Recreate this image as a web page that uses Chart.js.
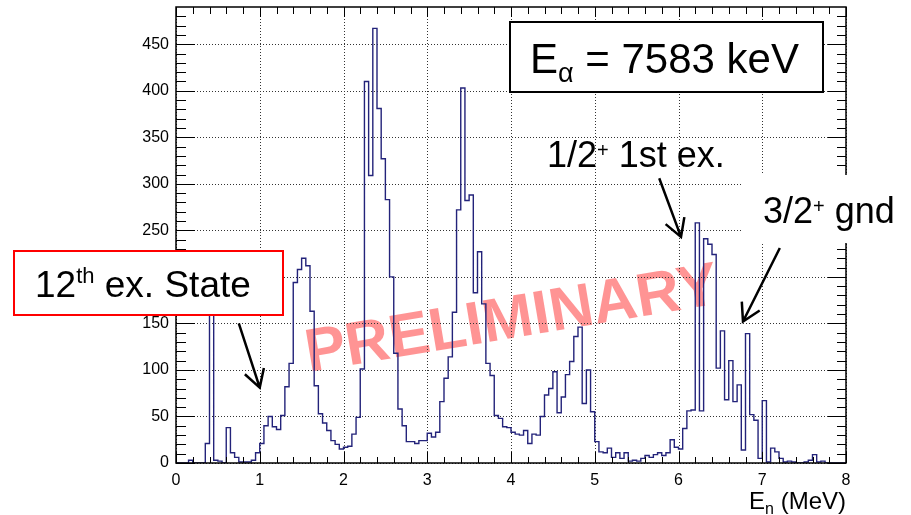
<!DOCTYPE html>
<html>
<head>
<meta charset="utf-8">
<script src="https://cdn.jsdelivr.net/npm/chart.js@4.4.1/dist/chart.umd.min.js"></script>
<style>
  body { margin: 0; background: #fff; }
  #wrap { width: 911px; height: 515px; }
</style>
</head>
<body>
<div id="wrap"><canvas id="myChart" width="911" height="515"></canvas></div>
<script>
// neutron energy spectrum, 0.05 MeV bins from 0 to 8 MeV (one row per MeV)
const binWidth = 0.05
const counts = [
    0, 0, 0, 3, 0, 0, 0, 21, 190, 3, 2, 0, 38, 11, 6, 1, 1, 1, 3, 11,
    21, 40, 50, 39, 36, 51, 82, 107, 194, 208, 220, 212, 163, 83, 53, 43, 35, 24, 20, 15,
    17, 18, 31, 49, 101, 410, 309, 467, 381, 327, 283, 200, 118, 58, 40, 23, 23, 21, 24, 24,
    32, 28, 33, 66, 91, 114, 162, 272, 403, 282, 288, 183, 227, 171, 107, 94, 51, 48, 39, 38,
    33, 31, 30, 35, 21, 31, 30, 50, 73, 80, 98, 54, 71, 95, 109, 136, 146, 64, 100, 55,
    23, 12, 11, 16, 6, 11, 5, 11, 2, 3, 2, 5, 8, 6, 9, 11, 8, 11, 25, 17,
    15, 37, 56, 57, 258, 56, 241, 235, 224, 102, 142, 68, 110, 66, 84, 14, 139, 52, 46, 5,
    67, 1, 16, 12, 5, 1, 2, 1, 0, 0, 1, 3, 9, 1, 2, 0, 0, 0, 0, 0
]
const xTicks = [0, 1, 2, 3, 4, 5, 6, 7, 8]
const yTicks = [0, 50, 100, 150, 200, 250, 300, 350, 400, 450]

const font = "'Liberation Sans', Arial, sans-serif"

// histogram outline: one point per bin low edge, plus the upper edge of the last bin
let points = counts.map((c, i) => ({ x: i * binWidth, y: c }))
points.push({ x: counts.length * binWidth, y: counts[counts.length - 1] })

// text made of pieces with sub/superscripts
function rich(ctx, x, base, parts) {
    parts.forEach(p => {
        ctx.font = p.size + 'px ' + font
        ctx.fillText(p.t, x, base + (p.dy || 0))
        x += ctx.measureText(p.t).width
    })
}

function arrow(ctx, x0, y0, x1, y1) {
    let ang = Math.atan2(y0 - y1, x0 - x1)
    let len = 20, spread = Math.PI / 6
    ctx.beginPath()
    ctx.moveTo(x0, y0)
    ctx.lineTo(x1, y1)
    ctx.moveTo(x1 + len * Math.cos(ang - spread), y1 + len * Math.sin(ang - spread))
    ctx.lineTo(x1, y1)
    ctx.lineTo(x1 + len * Math.cos(ang + spread), y1 + len * Math.sin(ang + spread))
    ctx.stroke()
}

const watermark = {
    id: 'watermark',
    beforeDraw(chart) {
        let ctx = chart.ctx
        ctx.save()
        ctx.translate(512, 321)
        ctx.rotate(-9.5 * Math.PI / 180)
        ctx.font = 'bold 61px ' + font
        ctx.fillStyle = 'rgba(255, 0, 0, 0.42)'
        ctx.textAlign = 'center'
        ctx.textBaseline = 'middle'
        ctx.fillText('PRELIMINARY', 0, 0)
        ctx.restore()
    }
}

// dotted grid at the labelled ticks
const dottedGrid = {
    id: 'dottedGrid',
    beforeDatasetsDraw(chart) {
        const { ctx, chartArea: a, scales: { x, y } } = chart
        ctx.save()
        ctx.strokeStyle = '#333'
        ctx.lineWidth = 1
        ctx.setLineDash([1, 2])
        ctx.beginPath()
        xTicks.forEach(v => {
            let px = Math.round(x.getPixelForValue(v)) + 0.5
            ctx.moveTo(px, a.top); ctx.lineTo(px, a.bottom)
        })
        yTicks.forEach(v => {
            let py = Math.round(y.getPixelForValue(v)) + 0.5
            ctx.moveTo(a.left, py); ctx.lineTo(a.right, py)
        })
        ctx.stroke()
        ctx.restore()
    }
}

const frame = {
    id: 'frame',
    afterDraw(chart) {
        const { ctx, chartArea: a, scales: { x, y } } = chart
        ctx.save()
        ctx.strokeStyle = '#000'
        ctx.lineWidth = 1
        ctx.beginPath()
        // minor ticks every 0.2 MeV, major every 1 MeV
        for (let k = 0; k <= 40; k++) {
            let px = Math.round(x.getPixelForValue(k / 5)) + 0.5
            let major = k % 5 === 0
            ctx.moveTo(px, a.bottom); ctx.lineTo(px, a.bottom - (major ? 11 : 6))
            ctx.moveTo(px, a.top); ctx.lineTo(px, a.top + (major ? 10 : 7))
        }
        // minor ticks every 10 counts, major every 50
        for (let v = 0; v <= 480; v += 10) {
            let py = Math.round(y.getPixelForValue(v)) + 0.5
            let major = v % 50 === 0
            ctx.moveTo(a.left, py); ctx.lineTo(a.left + (major ? 19 : 10), py)
            ctx.moveTo(a.right, py); ctx.lineTo(a.right - (major ? 18 : 9), py)
        }
        ctx.stroke()
        ctx.lineWidth = 1.5
        ctx.strokeRect(a.left, a.top, a.right - a.left, a.bottom - a.top)

        ctx.fillStyle = '#000'
        ctx.textBaseline = 'alphabetic'

        // axis title
        ctx.font = '24px ' + font
        let w = ctx.measureText('E').width + ctx.measureText(' (MeV)').width
        ctx.font = '16px ' + font
        w += ctx.measureText('n').width
        rich(ctx, a.right - w, 509, [
            { t: 'E', size: 24 }, { t: 'n', size: 16, dy: 5 }, { t: ' (MeV)', size: 24 }
        ])

        // beam energy box
        ctx.fillStyle = '#fff'
        ctx.fillRect(510, 22, 313, 70)
        ctx.lineWidth = 2
        ctx.strokeRect(510, 22, 313, 70)
        ctx.fillStyle = '#000'
        rich(ctx, 530, 73, [
            { t: 'E', size: 42 }, { t: 'α', size: 27, dy: 9 }, { t: ' = 7583 keV', size: 42 }
        ])

        // state labels
        rich(ctx, 547, 167, [
            { t: '1/2', size: 36 }, { t: '+', size: 20, dy: -10 }, { t: ' 1st ex.', size: 36 }
        ])
        ctx.fillStyle = '#fff'
        ctx.fillRect(743, 175, 168, 68)
        ctx.fillStyle = '#000'
        rich(ctx, 763, 223, [
            { t: '3/2', size: 36 }, { t: '+', size: 20, dy: -10 }, { t: ' gnd', size: 36 }
        ])

        ctx.fillStyle = '#fff'
        ctx.fillRect(14, 251, 269, 64)
        ctx.strokeStyle = '#ff0000'
        ctx.lineWidth = 2
        ctx.strokeRect(14, 251, 269, 64)
        ctx.fillStyle = '#000'
        rich(ctx, 35, 297, [
            { t: '12', size: 37 }, { t: 'th', size: 22, dy: -14 }, { t: ' ex. State', size: 37 }
        ])

        // arrows pointing at the peaks
        ctx.strokeStyle = '#000'
        ctx.lineWidth = 2.5
        arrow(ctx, x.getPixelForValue(0.75), y.getPixelForValue(150), x.getPixelForValue(1.0), y.getPixelForValue(81))
        arrow(ctx, x.getPixelForValue(5.77), y.getPixelForValue(306), x.getPixelForValue(6.03), y.getPixelForValue(243))
        arrow(ctx, x.getPixelForValue(7.21), y.getPixelForValue(231), x.getPixelForValue(6.77), y.getPixelForValue(152))
        ctx.restore()
    }
}

var ctx = document.getElementById('myChart').getContext('2d')
var myChart = new Chart(ctx, {
    type: 'line',
    data: {
        datasets: [{
            data: points,
            stepped: true,
            borderColor: '#23237a',
            borderWidth: 1.4,
            pointRadius: 0,
            fill: false
        }]
    },
    options: {
        responsive: false,
        animation: false,
        devicePixelRatio: 1,
        layout: { padding: { left: 0, right: 65, top: 7, bottom: 0 } },
        plugins: { legend: { display: false }, tooltip: { enabled: false } },
        scales: {
            x: {
                type: 'linear',
                min: 0,
                max: 8,
                afterBuildTicks: s => { s.ticks = xTicks.map(v => ({ value: v })) },
                afterFit: s => { s.height = 52; s.paddingLeft = 0; s.paddingRight = 0 },
                grid: { display: false, drawTicks: false },
                border: { display: false },
                ticks: { color: '#000', font: { family: font, size: 16 }, padding: 8, maxRotation: 0 }
            },
            y: {
                min: 0,
                max: 490,
                afterBuildTicks: s => { s.ticks = yTicks.map(v => ({ value: v })) },
                afterFit: s => { s.width = 176; s.paddingTop = 0; s.paddingBottom = 0 },
                grid: { display: false, drawTicks: false },
                border: { display: false },
                ticks: { color: '#000', font: { family: font, size: 16 }, padding: 7 }
            }
        }
    },
    plugins: [watermark, dottedGrid, frame]
})
</script>
</body>
</html>
